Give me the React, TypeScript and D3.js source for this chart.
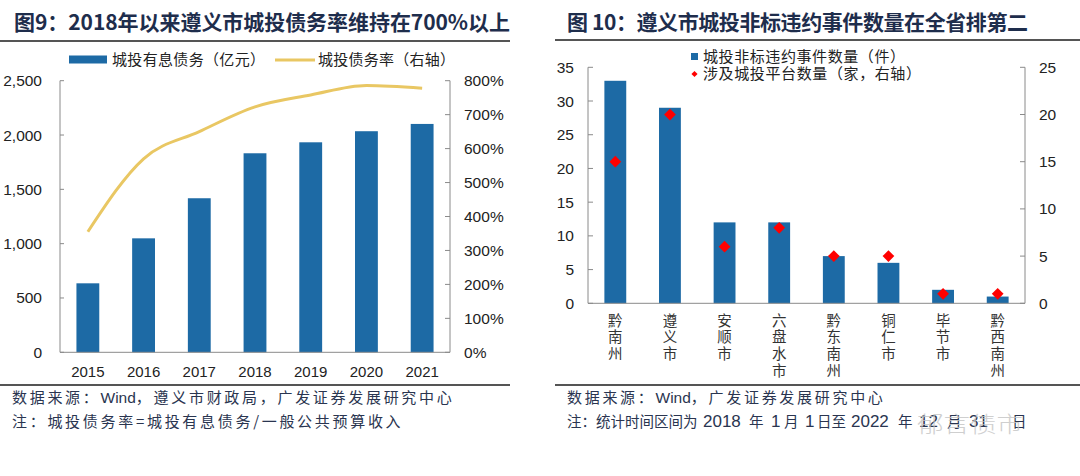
import React from "react";
import * as d3 from "d3";

const years = ["2015", "2016", "2017", "2018", "2019", "2020", "2021"];
const debt = [635, 1049, 1418, 1832, 1933, 2035, 2102];
const debtRatio = [355, 570, 650, 723, 758, 786, 778];
const leftTicks = [0, 500, 1000, 1500, 2000, 2500];
const rightTicksPct = [0, 100, 200, 300, 400, 500, 600, 700, 800];

const regions = ["黔南州", "遵义市", "安顺市", "六盘水市", "黔东南州", "铜仁市", "毕节市", "黔西南州"];
const events = [33, 29, 12, 12, 7, 6, 2, 1];
const platforms = [15, 20, 6, 8, 5, 5, 1, 1];
const evTicks = [0, 5, 10, 15, 20, 25, 30, 35];
const plTicks = [0, 5, 10, 15, 20, 25];

const BLUE = "#1D6AA5";
const GOLD = "#E9C763";
const NAVY = "#1E2D4C";
const TXT = "#222";
const AX = "#8a8a8a";
const SRC = "#2a3550";
const NUM = "'Liberation Sans', Arial, sans-serif";
const CJK = "'Noto Sans CJK SC', sans-serif";

function Cjk({ children, x }: { children: string; x?: number }) {
  return (
    <tspan x={x} fontFamily={CJK} letterSpacing={2.7}>
      {children}
    </tspan>
  );
}
function Lat({ children, x, size = 15.5 }: { children: string; x?: number; size?: number }) {
  return (
    <tspan x={x} fontFamily={NUM} fontSize={size}>
      {children}
    </tspan>
  );
}
function Cj({ children, x }: { children: string; x?: number }) {
  return (
    <tspan x={x} fontFamily={CJK} fontSize={14.5}>
      {children}
    </tspan>
  );
}

function LeftChart() {
  const x0 = 60, x1 = 450, yTop = 80.7, yBot = 352.3;
  const x = d3.scaleBand<string>().domain(years).range([x0, x1]).paddingInner(0.59).paddingOuter(0.295);
  const y = d3.scaleLinear().domain([0, 2500]).range([yBot, yTop]);
  const y2 = d3.scaleLinear().domain([0, 800]).range([yBot, yTop]);
  const line = d3
    .line<number>()
    .x((_, i) => (x(years[i]) as number) + x.bandwidth() / 2)
    .y((d) => y2(d))
    .curve(d3.curveMonotoneX);
  const fmt = d3.format(",");
  return (
    <g>
      <text x={14} y={30} fontFamily={CJK} fontWeight={700} fontSize={21} fill={NAVY} textLength={496} lengthAdjust="spacing">
        图9：2018年以来遵义市城投债务率维持在700%以上
      </text>
      <line x1={0} x2={510} y1={41} y2={41} stroke="#555" strokeWidth={2} />
      <rect x={69} y={55.5} width={38} height={8} fill={BLUE} />
      <text x={112} y={65} fontFamily={CJK} fontSize={15} fill={TXT} textLength={153} lengthAdjust="spacing">
        城投有息债务（亿元）
      </text>
      <line x1={275} x2={315} y1={60} y2={60} stroke={GOLD} strokeWidth={3} />
      <text x={318} y={65} fontFamily={CJK} fontSize={15} fill={TXT} textLength={137} lengthAdjust="spacing">
        城投债务率（右轴）
      </text>
      {debt.map((d, i) => (
        <rect key={i} x={x(years[i])} y={y(d)} width={x.bandwidth()} height={yBot - y(d)} fill={BLUE} />
      ))}
      <path d={line(debtRatio) || ""} fill="none" stroke={GOLD} strokeWidth={3} />
      <line x1={x0} x2={x0} y1={yTop} y2={yBot} stroke={AX} />
      <line x1={x1} x2={x1} y1={yTop} y2={yBot} stroke={AX} />
      <line x1={x0} x2={x1} y1={yBot} y2={yBot} stroke={AX} />
      {leftTicks.map((t) => (
        <g key={t}>
          <line x1={x0} x2={x0 + 4} y1={y(t)} y2={y(t)} stroke={AX} />
          <text x={42} y={y(t) + 5.5} textAnchor="end" fontFamily={NUM} fontSize={15.5} fill={TXT}>
            {fmt(t)}
          </text>
        </g>
      ))}
      {rightTicksPct.map((t) => (
        <g key={t}>
          <line x1={x1 - 5} x2={x1} y1={y2(t)} y2={y2(t)} stroke={AX} />
          <text x={464} y={y2(t) + 5.5} fontFamily={NUM} fontSize={15.5} fill={TXT}>
            {t}%
          </text>
        </g>
      ))}
      {years.map((yr) => (
        <text key={yr} x={(x(yr) as number) + x.bandwidth() / 2} y={377} textAnchor="middle" fontFamily={NUM} fontSize={15} fill={TXT}>
          {yr}
        </text>
      ))}
      <line x1={0} x2={510} y1={385} y2={385} stroke="#555" strokeWidth={2} />
      <text x={12} y={403} fontSize={15} fill={SRC}>
        <Cjk>数据来源：</Cjk>
        <Lat>Wind</Lat>
        <Cjk>，遵义市财政局，广发证券发展研究中心</Cjk>
      </text>
      <text x={12} y={427} fontSize={15} fill={SRC}>
        <Cjk>注：城投债务率=城投有息债务/一般公共预算收入</Cjk>
      </text>
    </g>
  );
}

function RightChart() {
  const x0 = 588, x1 = 1025, yTop = 67.3, yBot = 303.3;
  const x = d3.scaleBand<string>().domain(regions).range([x0, x1]).paddingInner(0.6).paddingOuter(0.3);
  const y = d3.scaleLinear().domain([0, 35]).range([yBot, yTop]);
  const y2 = d3.scaleLinear().domain([0, 25]).range([yBot, yTop]);
  const legendDiamond = d3.symbol().type(d3.symbolDiamond2).size(24)();
  const diamond = d3.symbol().type(d3.symbolDiamond2).size(88)();
  return (
    <g>
      <text x={567} y={30} fontFamily={CJK} fontWeight={700} fontSize={21} fill={NAVY} textLength={461} lengthAdjust="spacing">
        图 10：遵义市城投非标违约事件数量在全省排第二
      </text>
      <line x1={555} x2={1080} y1={40} y2={40} stroke="#555" strokeWidth={2} />
      <rect x={691} y={53} width={7} height={7} fill={BLUE} />
      <text x={703} y={62} fontFamily={CJK} fontSize={15} fill={TXT} textLength={202} lengthAdjust="spacing">
        城投非标违约事件数量（件）
      </text>
      <path d={legendDiamond || ""} transform="translate(694.5,74)" fill="#FF0000" />
      <text x={703} y={79} fontFamily={CJK} fontSize={15} fill={TXT} textLength={218} lengthAdjust="spacing">
        涉及城投平台数量（家，右轴）
      </text>
      {events.map((d, i) => (
        <rect key={i} x={x(regions[i])} y={y(d)} width={x.bandwidth()} height={yBot - y(d)} fill={BLUE} />
      ))}
      {platforms.map((d, i) => (
        <path
          key={i}
          d={diamond || ""}
          transform={`translate(${(x(regions[i]) as number) + x.bandwidth() / 2},${y2(d)})`}
          fill="#FF0000"
        />
      ))}
      <line x1={x0} x2={x0} y1={yTop} y2={yBot} stroke={AX} />
      <line x1={x1} x2={x1} y1={yTop} y2={yBot} stroke={AX} />
      <line x1={x0} x2={x1} y1={yBot} y2={yBot} stroke={AX} />
      {evTicks.map((t) => (
        <g key={t}>
          <line x1={x0} x2={x0 + 5} y1={y(t)} y2={y(t)} stroke={AX} />
          <text x={574} y={y(t) + 5.5} textAnchor="end" fontFamily={NUM} fontSize={15.5} fill={TXT}>
            {t}
          </text>
        </g>
      ))}
      {plTicks.map((t) => (
        <g key={t}>
          <line x1={x1 - 5} x2={x1} y1={y2(t)} y2={y2(t)} stroke={AX} />
          <text x={1039} y={y2(t) + 5.5} fontFamily={NUM} fontSize={15.5} fill={TXT}>
            {t}
          </text>
        </g>
      ))}
      {regions.map((r) => (
        <text
          key={r}
          x={(x(r) as number) + x.bandwidth() / 2}
          y={313}
          fontFamily={CJK}
          fontSize={14.5}
          fill="#333"
          letterSpacing={2.2}
          style={{ writingMode: "vertical-rl" }}
        >
          {r}
        </text>
      ))}
      <line x1={555} x2={1080} y1={385} y2={385} stroke="#555" strokeWidth={2} />
      <text x={567} y={403} fontSize={15} fill={SRC}>
        <Cjk>数据来源：</Cjk>
        <Lat>Wind</Lat>
        <Cjk>，广发证券发展研究中心</Cjk>
      </text>
      <text x={567} y={427} fontSize={15} fill={SRC}>
        <Cj>注：统计时间区间为</Cj>
        <Lat x={703} size={17}>2018</Lat>
        <Cj x={749}>年</Cj>
        <Lat x={771} size={17}>1</Lat>
        <Cj x={784}>月</Cj>
        <Lat x={805} size={17}>1</Lat>
        <Cj x={817}>日至</Cj>
        <Lat x={851} size={17}>2022</Lat>
        <Cj x={898}>年</Cj>
        <Lat x={919} size={17}>12</Lat>
        <Cj x={947}>月</Cj>
        <Lat x={969} size={17}>31</Lat>
        <Cj x={1012}>日</Cj>
      </text>
      <text x={917} y={432} fontFamily={CJK} fontWeight={300} fontSize={22} fill="#c4c4c4" opacity={0.8} textLength={106} lengthAdjust="spacingAndGlyphs">
        郁言债市
      </text>
    </g>
  );
}

export default function App() {
  return (
    <svg
      width={1080}
      height={476}
      viewBox="0 0 1080 476"
      style={{ position: "absolute", left: 0, top: 0, background: "#fff" }}
    >
      <rect width={1080} height={476} fill="#fff" />
      <LeftChart />
      <RightChart />
    </svg>
  );
}
